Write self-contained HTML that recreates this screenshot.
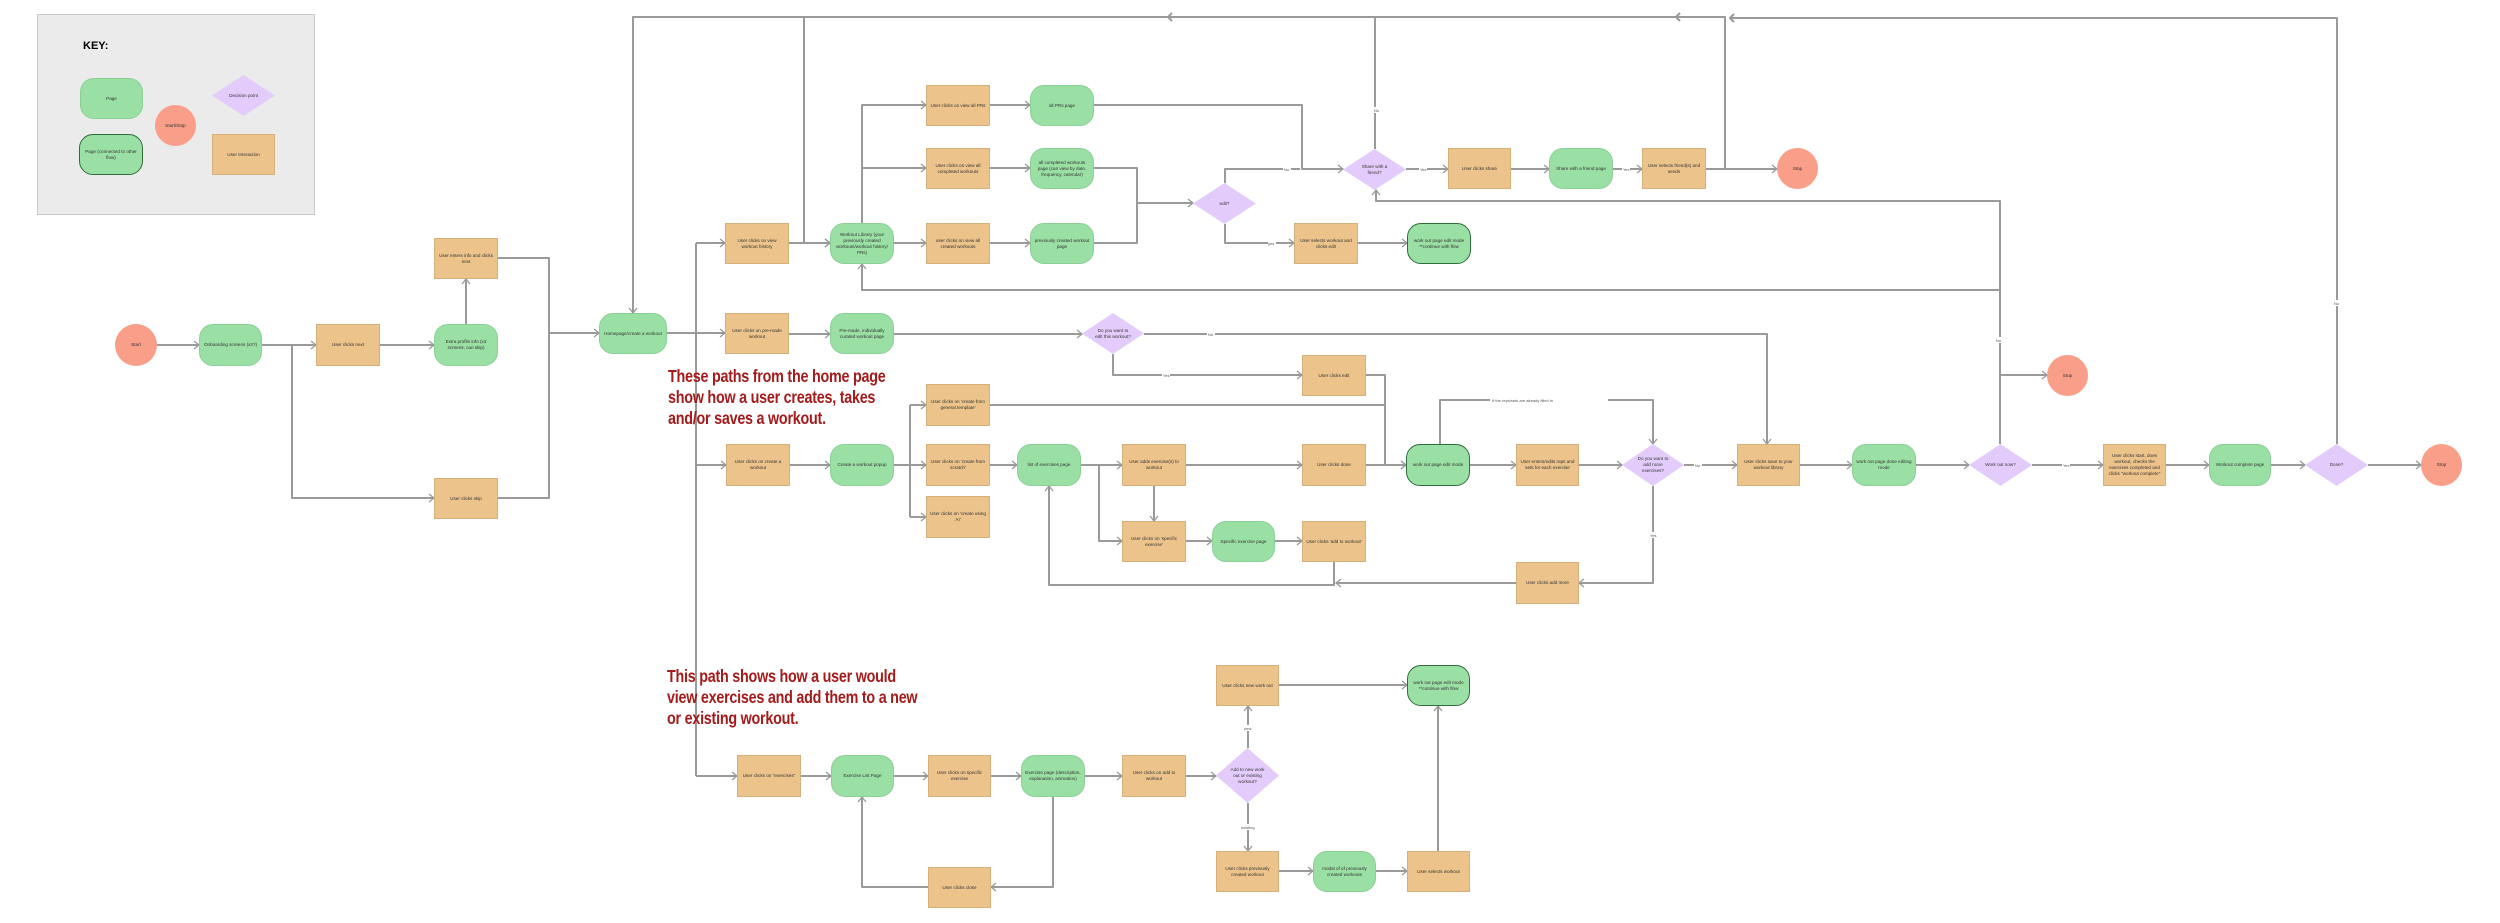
<!DOCTYPE html>
<html><head><meta charset="utf-8"><style>
html,body{margin:0;padding:0;background:#fff;}
body{width:2500px;height:923px;position:relative;overflow:hidden;font-family:"Liberation Sans",sans-serif;}
.n{position:absolute;display:flex;align-items:center;justify-content:center;text-align:center;font-size:4.6px;line-height:6px;color:#333;box-sizing:border-box;padding:0 3px;}
.r{background:#EBC38B;border:1px solid #d6b07a;}
.p{background:#9ADFA4;border-radius:14px;border:1px solid #8ccf96;}
.pd{background:#9ADFA4;border-radius:14px;border:1.5px solid #2f6e3a;}
.c{background:#F99E88;border-radius:50%;}
.d{background:#E3CCFB;clip-path:polygon(50% 0,100% 50%,50% 100%,0 50%);padding:0 12px;}
.key{position:absolute;left:37px;top:14px;width:278px;height:201px;background:#EBEBEB;border:1px solid #c8c8c8;box-sizing:border-box;}
.t{position:absolute;color:#A31B1B;font-size:17.5px;font-weight:bold;line-height:21px;letter-spacing:-0.3px;font-family:"Liberation Sans Narrow","Liberation Sans",sans-serif;transform:scaleX(0.82);transform-origin:left top;white-space:nowrap;}
svg{position:absolute;left:0;top:0;}
.lb{font-size:4px;fill:#555;}
</style></head><body>
<div class="key"></div>
<div style="position:absolute;left:83px;top:40px;font-size:11px;font-weight:bold;">KEY:</div>
<svg width="2500" height="923" viewBox="0 0 2500 923">
<defs><marker id="a" markerWidth="8" markerHeight="10" refX="6" refY="5" orient="auto" markerUnits="userSpaceOnUse"><path d="M1,1 L6,5 L1,9" fill="none" stroke="#999" stroke-width="1.3"/></marker></defs>
<g fill="none" stroke="#9a9a9a" stroke-width="2" stroke-linejoin="round">
<path d="M157,345 H199" marker-end="url(#a)"/>
<path d="M262,345 H316" marker-end="url(#a)"/>
<path d="M292,345 V498 H434" marker-end="url(#a)"/>
<path d="M380,345 H434" marker-end="url(#a)"/>
<path d="M466,324 V279" marker-end="url(#a)"/>
<path d="M498,258 H549 V498 H498"/>
<path d="M549,333 H599" marker-end="url(#a)"/>
<path d="M1375,149 V17 H633 V313" marker-end="url(#a)"/>
<path d="M1706,169 H1725 V17 H804 V243 H830" marker-end="url(#a)"/>
<path d="M1725,169 H1777" marker-end="url(#a)"/>
<path d="M2337,444 V18 H1730"/>
<path d="M667,333 H696"/>
<path d="M696,243 V776"/>
<path d="M696,243 H725" marker-end="url(#a)"/>
<path d="M696,333 H725" marker-end="url(#a)"/>
<path d="M696,465 H726" marker-end="url(#a)"/>
<path d="M696,776 H737" marker-end="url(#a)"/>
<path d="M789,243 H830" marker-end="url(#a)"/>
<path d="M862,223 V105 H926" marker-end="url(#a)"/>
<path d="M862,168 H926" marker-end="url(#a)"/>
<path d="M894,243 H926" marker-end="url(#a)"/>
<path d="M990,105 H1030" marker-end="url(#a)"/>
<path d="M990,168 H1030" marker-end="url(#a)"/>
<path d="M990,243 H1030" marker-end="url(#a)"/>
<path d="M1094,105 H1302 V169 H1343" marker-end="url(#a)"/>
<path d="M1094,168 H1137 V243 H1094"/>
<path d="M1137,203 H1193" marker-end="url(#a)"/>
<path d="M1225,183 V169 H1300"/>
<path d="M1225,224 V243 H1294" marker-end="url(#a)"/>
<path d="M1406,169 H1448" marker-end="url(#a)"/>
<path d="M1511,169 H1549" marker-end="url(#a)"/>
<path d="M1613,169 H1642" marker-end="url(#a)"/>
<path d="M1358,243 H1407" marker-end="url(#a)"/>
<path d="M2000,444 V201 H1376 V190" marker-end="url(#a)"/>
<path d="M2000,290 H862 V264" marker-end="url(#a)"/>
<path d="M2000,375 H2047" marker-end="url(#a)"/>
<path d="M789,334 H830" marker-end="url(#a)"/>
<path d="M894,334 H1082" marker-end="url(#a)"/>
<path d="M1144,334 H1767 V444" marker-end="url(#a)"/>
<path d="M1113,354 V375 H1302" marker-end="url(#a)"/>
<path d="M1366,375 H1385 V465 H1406" marker-end="url(#a)"/>
<path d="M790,465 H830" marker-end="url(#a)"/>
<path d="M894,465 H910"/>
<path d="M910,405 V517"/>
<path d="M910,405 H926" marker-end="url(#a)"/>
<path d="M910,465 H926" marker-end="url(#a)"/>
<path d="M910,517 H926" marker-end="url(#a)"/>
<path d="M990,465 H1017" marker-end="url(#a)"/>
<path d="M990,405 H1385"/>
<path d="M1081,465 H1122" marker-end="url(#a)"/>
<path d="M1099,465 V541 H1122" marker-end="url(#a)"/>
<path d="M1154,486 V521" marker-end="url(#a)"/>
<path d="M1186,465 H1302" marker-end="url(#a)"/>
<path d="M1186,541 H1212" marker-end="url(#a)"/>
<path d="M1275,541 H1302" marker-end="url(#a)"/>
<path d="M1334,562 V585 H1049 V486" marker-end="url(#a)"/>
<path d="M1366,465 H1406" marker-end="url(#a)"/>
<path d="M1470,465 H1516" marker-end="url(#a)"/>
<path d="M1579,465 H1622" marker-end="url(#a)"/>
<path d="M1440,444 V400 H1653 V444" marker-end="url(#a)"/>
<path d="M1684,465 H1737" marker-end="url(#a)"/>
<path d="M1653,486 V583 H1579" marker-end="url(#a)"/>
<path d="M1516,583 H1336" marker-end="url(#a)"/>
<path d="M1800,465 H1852" marker-end="url(#a)"/>
<path d="M1916,465 H1969" marker-end="url(#a)"/>
<path d="M2032,465 H2103" marker-end="url(#a)"/>
<path d="M2166,465 H2209" marker-end="url(#a)"/>
<path d="M2271,465 H2305" marker-end="url(#a)"/>
<path d="M2368,465 H2421" marker-end="url(#a)"/>
<path d="M801,776 H831" marker-end="url(#a)"/>
<path d="M894,776 H928" marker-end="url(#a)"/>
<path d="M991,776 H1021" marker-end="url(#a)"/>
<path d="M1085,776 H1122" marker-end="url(#a)"/>
<path d="M1186,776 H1216" marker-end="url(#a)"/>
<path d="M1248,748 V706" marker-end="url(#a)"/>
<path d="M1248,803 V851" marker-end="url(#a)"/>
<path d="M1279,685 H1407" marker-end="url(#a)"/>
<path d="M1279,871 H1313" marker-end="url(#a)"/>
<path d="M1376,871 H1407" marker-end="url(#a)"/>
<path d="M1438,851 V706" marker-end="url(#a)"/>
<path d="M1053,797 V887 H991" marker-end="url(#a)"/>
<path d="M928,887 H862 V797" marker-end="url(#a)"/>
<path d="M1172,13 L1168,17 L1172,21"/>
<path d="M1680,13 L1676,17 L1680,21"/>
<path d="M1734,14 L1730,18 L1734,22"/>
</g>
<g class="lb">
<rect x="1283" y="166" width="8" height="6" fill="#fff"/><text x="1284" y="171">No</text>
<rect x="1374" y="107" width="6" height="6" fill="#fff"/><text x="1374" y="112">No</text>
<rect x="1268" y="240" width="8" height="6" fill="#fff"/><text x="1268" y="245">yes</text>
<rect x="1419" y="166" width="8" height="6" fill="#fff"/><text x="1420" y="171">Yes</text>
<rect x="1622" y="166" width="8" height="6" fill="#fff"/><text x="1623" y="171">Yes</text>
<rect x="1207" y="331" width="8" height="6" fill="#fff"/><text x="1208" y="336">No</text>
<rect x="1162" y="372" width="8" height="6" fill="#fff"/><text x="1163" y="377">Yes</text>
<rect x="1490" y="397" width="118" height="6" fill="#fff"/><text x="1492" y="402">If the reps/sets are already filled in</text>
<rect x="1694" y="462" width="8" height="6" fill="#fff"/><text x="1695" y="467">No</text>
<rect x="1649" y="532" width="8" height="6" fill="#fff"/><text x="1650" y="537">Yes</text>
<rect x="1996" y="337" width="8" height="6" fill="#fff"/><text x="1996" y="342">No</text>
<rect x="2062" y="462" width="8" height="6" fill="#fff"/><text x="2063" y="467">Yes</text>
<rect x="2333" y="300" width="8" height="6" fill="#fff"/><text x="2334" y="305">No</text>
<rect x="1243" y="725" width="10" height="6" fill="#fff"/><text x="1244" y="730">new</text>
<rect x="1240" y="824" width="16" height="6" fill="#fff"/><text x="1241" y="829">existing</text>
</g>
</svg>

<div class="n p" style="left:80px;top:78px;width:63px;height:41px;">Page</div>
<div class="n c" style="left:155px;top:105px;width:41px;height:41px;">Start/Stop</div>
<div class="n d" style="left:212px;top:75px;width:63px;height:41px;">Decision point</div>
<div class="n pd" style="left:79px;top:134px;width:64px;height:41px;">Page (connected to other flow)</div>
<div class="n r" style="left:212px;top:134px;width:63px;height:41px;">User Interaction</div>

<div class="n c" style="left:115px;top:324px;width:42px;height:42px;">Start</div>
<div class="n p" style="left:199px;top:324px;width:63px;height:42px;">Onboarding screens (x3?)</div>
<div class="n r" style="left:316px;top:324px;width:64px;height:42px;">User clicks next</div>
<div class="n p" style="left:434px;top:324px;width:64px;height:42px;">Extra profile info (x3 screens, can skip)</div>
<div class="n r" style="left:434px;top:238px;width:64px;height:41px;">User enters info and clicks next</div>
<div class="n r" style="left:434px;top:478px;width:64px;height:41px;">User clicks skip</div>
<div class="n p" style="left:599px;top:313px;width:68px;height:41px;">Homepage/create a workout</div>

<div class="n r" style="left:725px;top:223px;width:64px;height:41px;">User clicks on view workout history</div>
<div class="n p" style="left:830px;top:223px;width:64px;height:41px;">Workout Library (your previously created workouts/workout history/ PRs)</div>
<div class="n r" style="left:926px;top:85px;width:64px;height:41px;">User clicks on view all PRs</div>
<div class="n p" style="left:1030px;top:85px;width:64px;height:41px;">all PRs page</div>
<div class="n r" style="left:926px;top:148px;width:64px;height:41px;">User clicks on view all completed workouts</div>
<div class="n p" style="left:1030px;top:148px;width:64px;height:41px;">all completed workouts page (can view by date, frequency, calendar)</div>
<div class="n r" style="left:926px;top:223px;width:64px;height:41px;">user clicks on view all created workouts</div>
<div class="n p" style="left:1030px;top:223px;width:64px;height:41px;">previously created workout page</div>
<div class="n d" style="left:1193px;top:183px;width:63px;height:41px;">edit?</div>
<div class="n d" style="left:1343px;top:149px;width:63px;height:41px;">Share with a friend?</div>
<div class="n r" style="left:1448px;top:148px;width:63px;height:41px;">User clicks share</div>
<div class="n p" style="left:1549px;top:148px;width:64px;height:41px;">Share with a friend page</div>
<div class="n r" style="left:1642px;top:148px;width:64px;height:41px;">User selects friend(s) and sends</div>
<div class="n c" style="left:1777px;top:148px;width:41px;height:41px;">Stop</div>
<div class="n r" style="left:1294px;top:223px;width:64px;height:41px;">User selects workout and clicks edit</div>
<div class="n pd" style="left:1407px;top:223px;width:64px;height:41px;">work out page edit mode **continue with flow</div>

<div class="n r" style="left:725px;top:313px;width:64px;height:41px;">User clicks on pre-made workout</div>
<div class="n p" style="left:830px;top:313px;width:64px;height:41px;">Pre-made, individually curated workout page</div>
<div class="n d" style="left:1082px;top:313px;width:62px;height:41px;">Do you want to edit this workout?</div>
<div class="n r" style="left:1302px;top:355px;width:64px;height:41px;">User clicks edit</div>

<div class="n r" style="left:726px;top:444px;width:64px;height:42px;">User clicks on create a workout</div>
<div class="n p" style="left:830px;top:444px;width:64px;height:42px;">Create a workout popup</div>
<div class="n r" style="left:926px;top:384px;width:64px;height:42px;">User clicks on 'create from general template'</div>
<div class="n r" style="left:926px;top:444px;width:64px;height:42px;">User clicks on 'create from scratch'</div>
<div class="n r" style="left:926px;top:496px;width:64px;height:42px;">User clicks on 'create using AI'</div>
<div class="n p" style="left:1017px;top:444px;width:64px;height:42px;">list of exercises page</div>
<div class="n r" style="left:1122px;top:444px;width:64px;height:42px;">User adds exercise(s) to workout</div>
<div class="n r" style="left:1122px;top:521px;width:64px;height:41px;">User clicks on 'specific exercise'</div>
<div class="n p" style="left:1212px;top:521px;width:63px;height:41px;">Specific exercise page</div>
<div class="n r" style="left:1302px;top:521px;width:64px;height:41px;">User clicks 'add to workout'</div>
<div class="n r" style="left:1302px;top:444px;width:64px;height:42px;">User clicks done</div>
<div class="n pd" style="left:1406px;top:444px;width:64px;height:42px;">work out page edit mode</div>
<div class="n r" style="left:1516px;top:444px;width:63px;height:42px;">User enters/edits reps and sets for each exercise</div>
<div class="n d" style="left:1622px;top:444px;width:62px;height:42px;">Do you want to add more exercises?</div>
<div class="n r" style="left:1516px;top:562px;width:63px;height:42px;">User clicks add more</div>

<div class="n r" style="left:1737px;top:444px;width:63px;height:42px;">User clicks save to your workout library</div>
<div class="n p" style="left:1852px;top:444px;width:64px;height:42px;">work out page done editing mode</div>
<div class="n d" style="left:1969px;top:444px;width:63px;height:42px;">Work out now?</div>
<div class="n c" style="left:2047px;top:355px;width:41px;height:41px;">Stop</div>
<div class="n r" style="left:2103px;top:444px;width:63px;height:42px;">User clicks start, does workout, checks the exercises completed and clicks "workout complete"</div>
<div class="n p" style="left:2209px;top:444px;width:62px;height:42px;">Workout complete page</div>
<div class="n d" style="left:2305px;top:444px;width:63px;height:42px;">Done?</div>
<div class="n c" style="left:2421px;top:444px;width:41px;height:42px;">Stop</div>

<div class="n r" style="left:737px;top:755px;width:64px;height:42px;">User clicks on "exercises"</div>
<div class="n p" style="left:831px;top:755px;width:63px;height:42px;">Exercise List Page</div>
<div class="n r" style="left:928px;top:755px;width:63px;height:42px;">User clicks on specific exercise</div>
<div class="n p" style="left:1021px;top:755px;width:64px;height:42px;">Exercise page (description, explanation, animation)</div>
<div class="n r" style="left:1122px;top:755px;width:64px;height:42px;">User clicks on add to workout</div>
<div class="n d" style="left:1216px;top:748px;width:63px;height:55px;">Add to new work out or existing workout?</div>
<div class="n r" style="left:1216px;top:665px;width:63px;height:41px;">User clicks new work out</div>
<div class="n pd" style="left:1407px;top:665px;width:63px;height:41px;">work out page edit mode **continue with flow</div>
<div class="n r" style="left:1216px;top:851px;width:63px;height:41px;">User clicks previously created workout</div>
<div class="n p" style="left:1313px;top:851px;width:63px;height:41px;">modal of of previously created workouts</div>
<div class="n r" style="left:1407px;top:851px;width:63px;height:41px;">User selects workout</div>
<div class="n r" style="left:928px;top:867px;width:63px;height:41px;">User clicks close</div>

<div class="t" style="left:668px;top:366px;">These paths from the home page<br>show how a user creates, takes<br>and/or saves a workout.</div>
<div class="t" style="left:667px;top:666px;">This path shows how a user would<br>view exercises and add them to a new<br>or existing workout.</div>
</body></html>
